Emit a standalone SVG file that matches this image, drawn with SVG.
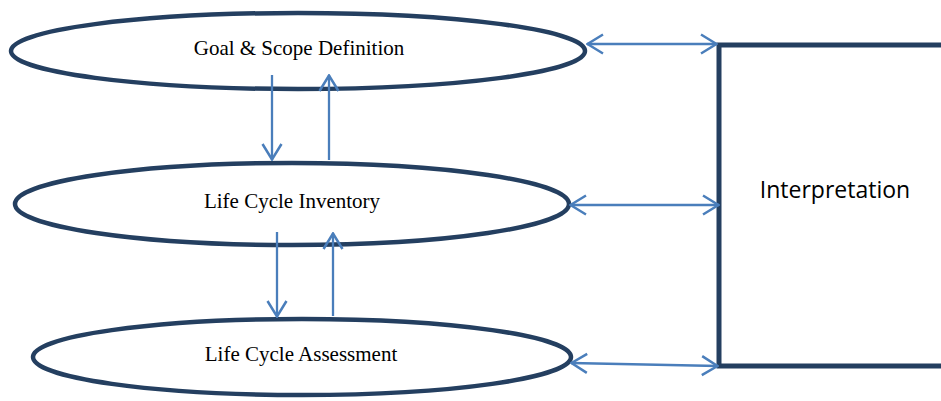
<svg xmlns="http://www.w3.org/2000/svg" width="941" height="401" viewBox="0 0 941 401">
<style>
.node{fill:none;stroke:#243f60;stroke-width:4.5}
.lbl{font-family:"Liberation Serif",serif;font-size:21px;fill:#000;text-anchor:middle}
.con{fill:none;stroke:#4a7ebb;stroke-width:2.3}
</style>
<defs>
<marker id="ah" viewBox="0 0 18 22" refX="17" refY="11" markerWidth="18" markerHeight="22" markerUnits="userSpaceOnUse" orient="auto-start-reverse">
<path d="M1 1.5 L16.5 11 L1 20.5" fill="none" stroke="#4a7ebb" stroke-width="2.5"/>
</marker>
</defs>
<rect width="941" height="401" fill="#fff"/>
<g id="goal">
<ellipse class="node" cx="298" cy="51" rx="287" ry="38"/>
<text class="lbl" x="299" y="55">Goal &amp; Scope Definition</text>
</g>
<g id="inventory">
<ellipse class="node" cx="292" cy="204" rx="277" ry="41"/>
<text class="lbl" x="292" y="208">Life Cycle Inventory</text>
</g>
<g id="assessment">
<ellipse class="node" cx="302" cy="357" rx="269" ry="38"/>
<text class="lbl" x="301" y="361">Life Cycle Assessment</text>
</g>
<g id="interpretation">
<path d="M945 45 H719 V366 H945" fill="none" stroke="#243f60" stroke-width="5"/>
<text x="835" y="198" font-family="'Open Sans','Noto Sans',sans-serif" font-size="23" text-anchor="middle" fill="#000">Interpretation</text>
</g>
<g id="connectors">
<line class="con" x1="272" y1="75" x2="272" y2="160" marker-end="url(#ah)"/>
<line class="con" x1="329" y1="160" x2="329" y2="75" marker-end="url(#ah)"/>
<line class="con" x1="277" y1="232" x2="277" y2="317" marker-end="url(#ah)"/>
<line class="con" x1="333" y1="316" x2="333" y2="233" marker-end="url(#ah)"/>
<line class="con" x1="587" y1="44" x2="717" y2="44" marker-start="url(#ah)" marker-end="url(#ah)"/>
<line class="con" x1="570" y1="205" x2="719" y2="205" marker-start="url(#ah)" marker-end="url(#ah)"/>
<line class="con" x1="571" y1="363" x2="718" y2="366" marker-start="url(#ah)" marker-end="url(#ah)"/>
</g>
</svg>
